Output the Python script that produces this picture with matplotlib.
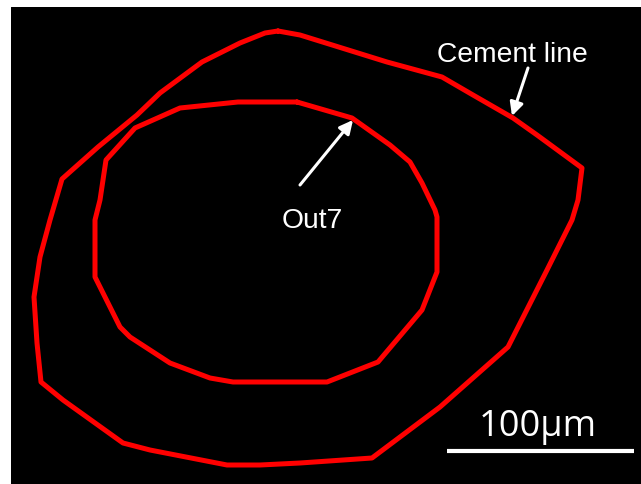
import matplotlib.pyplot as plt

# outline vertices, in image pixel coordinates
outer_x = [278, 300, 387, 442, 473, 513, 537, 582, 578, 572, 547, 508, 440, 372, 300, 260, 227,
           150, 123, 63, 41, 37, 34, 40, 50, 62, 98, 137, 160, 202, 240, 265, 278]
outer_y = [31, 35, 62, 77, 95, 118, 135, 168, 200, 220, 270, 347, 407, 458, 463, 465, 465,
           450, 443, 400, 382, 343, 297, 257, 220, 179, 147, 115, 93, 62, 43, 33, 31]

inner_x = [297, 352, 390, 410, 422, 435, 437, 437, 422, 378, 327, 233, 210, 170, 130, 120,
           95, 95, 100, 106, 135, 180, 238, 297]
inner_y = [102, 118, 145, 162, 183, 210, 217, 272, 310, 362, 382, 382, 378, 363, 337, 327,
           277, 220, 200, 160, 128, 108, 102, 102]

labels = ['Cement line', 'Out7']
label_pos = [(512, 62), (312, 228)]
arrow_tail = [(528, 68), (300, 185)]
arrow_tip = [(512, 116), (353, 120)]

scale_label = '100µm'
scale_x = [447, 634]
scale_y = [451, 451]

fig = plt.figure(figsize=(6.41, 4.84), dpi=100)
ax = fig.add_axes([11 / 641, 0, 630 / 641, 477 / 484])
ax.set_facecolor('black')
ax.set_xlim(11, 641)
ax.set_ylim(484, 7)
ax.axis('off')
ax.add_patch(plt.Rectangle((11, 7), 630, 477, color='black', zorder=0))

ax.plot(outer_x, outer_y, color='#ff0000', lw=3.6, solid_joinstyle='round', solid_capstyle='round')
ax.plot(inner_x, inner_y, color='#ff0000', lw=3.6, solid_joinstyle='round', solid_capstyle='round')

for lab, pos, tail, tip in zip(labels, label_pos, arrow_tail, arrow_tip):
    ax.text(pos[0], pos[1], lab, color='white', fontsize=20.3, family='Liberation Sans',
            ha='center', va='baseline')
    ax.annotate('', xy=tip, xytext=tail,
                arrowprops=dict(arrowstyle='-|>', color='white', lw=2.2, mutation_scale=20,
                                shrinkA=0, shrinkB=0))

ax.plot(scale_x, scale_y, color='white', lw=3, solid_capstyle='butt')
ax.text(538, 436, scale_label, color='white', fontsize=26, family='Open Sans',
        ha='center', va='baseline')

fig.savefig('out.png', dpi=100, facecolor='white')
